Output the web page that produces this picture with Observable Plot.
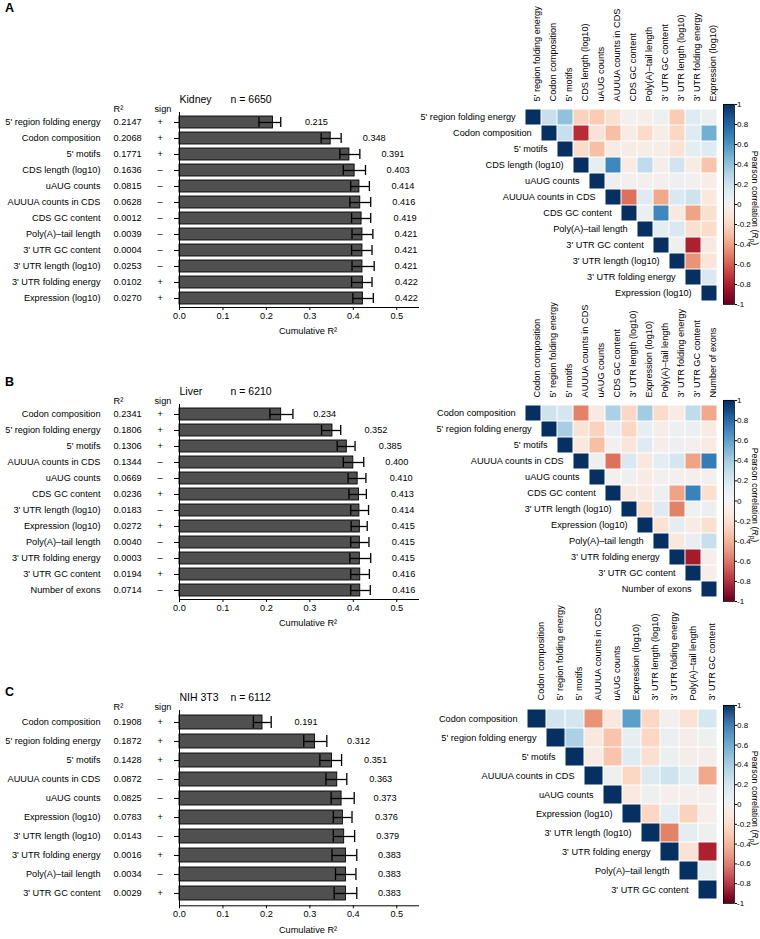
<!DOCTYPE html>
<html><head><meta charset="utf-8">
<script src="https://cdn.jsdelivr.net/npm/d3@7"></script>
<script src="https://cdn.jsdelivr.net/npm/@observablehq/plot@0.6"></script>
<style>
body{margin:0;background:#fff;font-family:"Liberation Sans",Arial,sans-serif;color:#000;}
#fig{position:relative;width:760px;height:939px;overflow:hidden;background:#fff;}
#fig svg{position:absolute;overflow:visible;}
.letter{position:absolute;font-weight:bold;font-size:12.5px;line-height:13px;}
.cbl{position:absolute;writing-mode:vertical-rl;font-size:8.8px;line-height:10px;white-space:nowrap;transform:translateY(-50%);}
</style></head><body><div id="fig"></div>
<script>
const FONT = '"Liberation Sans", Arial, sans-serif';

// ---------- Panel A (Kidney) ----------
const namesA = ["5' region folding energy","Codon composition","5' motifs","CDS length (log10)","uAUG counts","AUUUA counts in CDS","CDS GC content","Poly(A)–tail length","3' UTR GC content","3' UTR length (log10)","3' UTR folding energy","Expression (log10)"];
const r2A   = ["0.2147","0.2068","0.1771","0.1636","0.0815","0.0628","0.0012","0.0039","0.0004","0.0253","0.0102","0.0270"];
const signA = ["+","+","+","–","–","–","–","–","–","–","+","+"];
const cumA  = [0.215,0.348,0.391,0.403,0.414,0.416,0.419,0.421,0.421,0.421,0.422,0.422];
const loA   = [0.183,0.326,0.369,0.377,0.394,0.392,0.396,0.397,0.396,0.397,0.396,0.399];
const hiA   = [0.233,0.372,0.415,0.428,0.437,0.440,0.440,0.445,0.443,0.448,0.443,0.446];
// upper-triangle correlations, row i holds columns i+1..n-1
const corrA = [
  [0.22,0.40,-0.22,-0.25,-0.15,0.00,-0.05,0.03,-0.25,0.12,0.06],
  [0.22,-0.75,-0.13,-0.30,-0.07,-0.18,-0.05,-0.20,0.12,0.48],
  [-0.18,-0.30,-0.07,-0.06,-0.05,-0.05,-0.14,0.10,0.12],
  [0.08,0.65,-0.07,0.25,-0.04,0.18,-0.07,-0.28],
  [0.04,0.00,0.00,-0.02,0.04,0.00,-0.05],
  [-0.55,0.12,-0.38,0.15,0.20,-0.10],
  [0.05,0.65,-0.10,-0.40,-0.15],
  [0.10,0.15,-0.15,-0.18],
  [0.03,-0.80,-0.08],
  [-0.45,-0.12],
  [0.15]
];

// ---------- Panel B (Liver) ----------
const namesB = ["Codon composition","5' region folding energy","5' motifs","AUUUA counts in CDS","uAUG counts","CDS GC content","3' UTR length (log10)","Expression (log10)","Poly(A)–tail length","3' UTR folding energy","3' UTR GC content","Number of exons"];
const r2B   = ["0.2341","0.1806","0.1306","0.1344","0.0669","0.0236","0.0183","0.0272","0.0040","0.0003","0.0194","0.0714"];
const signB = ["+","+","+","–","–","+","–","+","–","–","+","–"];
const cumB  = [0.234,0.352,0.385,0.400,0.410,0.413,0.414,0.415,0.415,0.415,0.416,0.416];
const loB   = [0.208,0.327,0.363,0.377,0.388,0.390,0.394,0.395,0.394,0.392,0.394,0.394];
const hiB   = [0.261,0.371,0.404,0.424,0.429,0.430,0.435,0.432,0.436,0.440,0.437,0.439];
const corrB = [
  [0.20,0.17,-0.50,-0.08,0.32,-0.20,0.35,-0.18,-0.07,0.25,-0.38],
  [0.33,-0.14,-0.22,0.07,-0.20,0.08,-0.04,0.04,0.05,-0.07],
  [-0.10,-0.30,0.00,-0.12,0.12,-0.04,0.04,0.00,-0.07],
  [0.04,-0.55,0.15,-0.10,0.10,0.17,-0.40,0.70],
  [0.00,0.04,-0.07,0.00,0.00,-0.02,0.00],
  [-0.10,-0.08,0.04,-0.40,0.67,-0.15],
  [-0.15,0.12,-0.50,0.02,0.05],
  [-0.14,0.10,-0.07,-0.15],
  [-0.10,0.07,0.22],
  [-0.82,-0.03],
  [-0.03]
];

// ---------- Panel C (NIH 3T3) ----------
const namesC = ["Codon composition","5' region folding energy","5' motifs","AUUUA counts in CDS","uAUG counts","Expression (log10)","3' UTR length (log10)","3' UTR folding energy","Poly(A)–tail length","3' UTR GC content"];
const r2C   = ["0.1908","0.1872","0.1428","0.0872","0.0825","0.0783","0.0143","0.0016","0.0034","0.0029"];
const signC = ["+","+","+","–","–","+","–","+","–","+"];
const cumC  = [0.191,0.312,0.351,0.363,0.373,0.376,0.379,0.383,0.383,0.383];
const loC   = [0.170,0.286,0.323,0.337,0.349,0.354,0.354,0.351,0.359,0.356];
const hiC   = [0.211,0.339,0.373,0.385,0.402,0.397,0.403,0.408,0.406,0.408];
const corrC = [
  [0.18,0.17,-0.45,-0.10,0.55,-0.20,0.00,-0.14,0.16],
  [0.32,-0.10,-0.28,0.08,-0.20,0.05,-0.04,0.03],
  [-0.07,-0.28,0.12,-0.15,0.06,-0.04,-0.04],
  [0.03,-0.20,0.13,0.20,0.10,-0.38],
  [-0.09,0.03,-0.02,-0.02,-0.02],
  [-0.20,0.10,-0.22,-0.03],
  [-0.50,0.10,0.03],
  [-0.13,-0.80],
  [0.08]
];

const xTicks = [0,0.1,0.2,0.3,0.4,0.5];
const colorTicks = [-1,-0.8,-0.6,-0.4,-0.2,0,0.2,0.4,0.6,0.8,1];
const colorOpts = {type:"linear", scheme:"rdbu", domain:[-1,1]};

const fig = document.getElementById("fig");
function place(svg, left, top){ svg.style.left = left+"px"; svg.style.top = top+"px"; fig.appendChild(svg); }
function letter(t, left, top){ const d=document.createElement("div"); d.className="letter"; d.textContent=t; d.style.left=left+"px"; d.style.top=top+"px"; fig.appendChild(d); }

function barPanel({names,r2,sign,cum,lo,hi,title,nText,plotTop,plotH,padIn,padOut}){
  const data = names.map((name,i)=>({name, r2:r2[i], sign:sign[i], cum:cum[i], lo:lo[i], hi:hi[i]}));
  const mt = 26, mb = 36;
  const svg = Plot.plot({
    width: 420, height: mt+plotH+mb,
    marginLeft: 179, marginRight: 2, marginTop: mt, marginBottom: mb,
    style: {fontFamily: FONT, fontSize: "9.2px", background: "transparent", color: "black"},
    x: {domain:[0,0.55]},
    y: {domain: names, paddingInner: padIn, paddingOuter: padOut},
    marks: [
      Plot.barX(data, {x:"cum", y:"name", fill:"#505050", stroke:"black", strokeWidth:0.9}),
      Plot.ruleY(data, {y:"name", x1:"lo", x2:"hi", stroke:"black", strokeWidth:1.3}),
      Plot.tickX(data, {y:"name", x:"lo", stroke:"black", strokeWidth:1.3, insetTop:1, insetBottom:1}),
      Plot.tickX(data, {y:"name", x:"hi", stroke:"black", strokeWidth:1.3, insetTop:1, insetBottom:1}),
      Plot.text(data, {y:"name", x:"cum", text:d=>d.cum.toFixed(3), dx:32, textAnchor:"start"}),
      Plot.text(data, {y:"name", frameAnchor:"left", text:"r2", dx:-66, textAnchor:"start"}),
      Plot.text(data, {y:"name", frameAnchor:"left", text:"sign", dx:-22}),
      Plot.text(["R²"], {frameAnchor:"top-left", dx:-66, dy:-3, textAnchor:"start", lineAnchor:"middle"}),
      Plot.text(["sign"], {frameAnchor:"top-left", dx:-25, dy:-3, textAnchor:"start", lineAnchor:"middle"}),
      Plot.text([title], {frameAnchor:"top-left", dy:-12.5, textAnchor:"start", lineAnchor:"middle", fontSize:10.5}),
      Plot.text([nText], {frameAnchor:"top-left", dx:51, dy:-12.5, textAnchor:"start", lineAnchor:"middle", fontSize:10.5}),
      Plot.text(["Cumulative R²"], {frameAnchor:"bottom", dx:9, dy:24, lineAnchor:"middle"}),
      Plot.axisY({tickSize:5, tickPadding:74, label:null}),
      Plot.axisX({ticks:xTicks, tickFormat:d3.format(".1f"), tickSize:3, tickPadding:2, label:null}),
      Plot.frame({anchor:"left"}),
      Plot.frame({anchor:"bottom"})
    ]
  });
  place(svg, 0, plotTop - mt);
}

function heatPanel({labels, corr, left, top, size}){
  const cells = [];
  labels.forEach((r,i)=>{
    cells.push({r, c:r, v:1});
    (corr[i]||[]).forEach((v,k)=>cells.push({r, c:labels[i+1+k], v}));
  });
  const bw = size/labels.length;
  const svgLeft = 400, mt = 102;
  const svg = Plot.plot({
    width: (left-svgLeft)+size+1, height: mt+size+2,
    marginLeft: left-svgLeft, marginRight: 1, marginTop: mt, marginBottom: 2,
    style: {fontFamily: FONT, fontSize: "9.2px", background: "transparent", color: "black"},
    x: {domain: labels, padding: 0, axis: null},
    y: {domain: labels, padding: 0, axis: null},
    color: colorOpts,
    marks: [
      Plot.cell(cells, {x:"c", y:"r", fill:"v", inset:0.5}),
      Plot.text(labels, {x:d=>d, y:d=>d, text:d=>d, textAnchor:"end", dx:-(bw/2+9.5)}),
      Plot.text(labels, {x:d=>d, frameAnchor:"top", text:d=>d, rotate:-90, textAnchor:"start", dy:-4})
    ]
  });
  place(svg, svgLeft, top - mt);
}

function colorbar({left, top, height}){
  const slices = d3.range(-1, 1, 0.01);
  const ml = 8, mtb = 6;
  const svg = Plot.plot({
    width: ml+11+22, height: height+2*mtb,
    marginLeft: ml, marginRight: 22, marginTop: mtb, marginBottom: mtb,
    style: {fontFamily: FONT, fontSize: "8px", background: "transparent", color: "black"},
    x: {domain:[0,1], axis:null},
    y: {domain:[-1,1]},
    color: colorOpts,
    marks: [
      Plot.rect(slices, {x1:0, x2:1, y1:d=>d, y2:d=>d+0.0105, fill:d=>d+0.005}),
      Plot.frame({stroke:"black", strokeWidth:0.8}),
      Plot.axisY({anchor:"right", ticks:colorTicks, tickFormat:d=>String(d), tickSize:2, tickPadding:0.5, label:null})
    ]
  });
  place(svg, left-ml, top-mtb);
  const d = document.createElement("div");
  d.className = "cbl";
  d.innerHTML = 'Pearson correlation (<i>R</i><sub style="font-size:6.5px;line-height:0">p</sub>)';
  d.style.left = "749.5px";
  d.style.top = (top + height/2 - 6) + "px";
  fig.appendChild(d);
}

letter("A", 5, 1.5);
letter("B", 5, 375.5);
letter("C", 5, 685.5);

barPanel({names:namesA, r2:r2A, sign:signA, cum:cumA, lo:loA, hi:hiA, title:"Kidney", nText:"n = 6650", plotTop:112.3, plotH:195, padIn:0.26, padOut:0.15});
barPanel({names:namesB, r2:r2B, sign:signB, cum:cumB, lo:loB, hi:hiB, title:"Liver", nText:"n = 6210", plotTop:404.3, plotH:195, padIn:0.26, padOut:0.15});
barPanel({names:namesC, r2:r2C, sign:signC, cum:cumC, lo:loC, hi:hiC, title:"NIH 3T3", nText:"n = 6112", plotTop:709.9, plotH:195.3, padIn:0.28, padOut:0.2});

heatPanel({labels:namesA, corr:corrA, left:521.5, top:104.5, size:199.5});
heatPanel({labels:namesB, corr:corrB, left:521.3, top:400.5, size:199.5});
heatPanel({labels:namesC, corr:corrC, left:522.5, top:704, size:199});

colorbar({left:723.3, top:104, height:200});
colorbar({left:722.7, top:400, height:201});
colorbar({left:723, top:705, height:198});
</script></body></html>
